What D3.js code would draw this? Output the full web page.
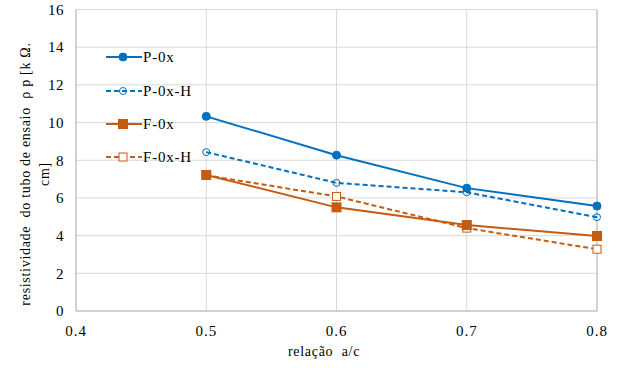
<!DOCTYPE html>
<html><head><meta charset="utf-8">
<script src="https://cdn.jsdelivr.net/npm/d3@7"></script>
<style>body{margin:0;background:#fff}svg{display:block}</style>
</head><body><svg id="c" width="627" height="368"></svg>
<script>
const xValues = [0.5, 0.6, 0.7, 0.8];
const seriesNames = ["P-0x", "P-0x-H", "F-0x", "F-0x-H"];
const p0x  = [10.33, 8.27, 6.52, 5.57];
const p0xH = [8.43, 6.80, 6.30, 4.98];
const f0x  = [7.22, 5.50, 4.56, 3.98];
const f0xH = [7.20, 6.08, 4.40, 3.28];
const xTicks = [0.4, 0.5, 0.6, 0.7, 0.8];
const yTicks = [0, 2, 4, 6, 8, 10, 12, 14, 16];
const xTitle = "relação  a/c";
const yTitle1 = "resistividade  do tubo de ensaio  ρ p [k Ω.";
const yTitle2 = "cm]";

const FONT = '"Liberation Serif"';
const series = [
  {name: seriesNames[0], values: p0x,  color: "#0070C0", dash: null,  marker: "circle", fill: true},
  {name: seriesNames[1], values: p0xH, color: "#0070C0", dash: "5,3", marker: "circle", fill: false},
  {name: seriesNames[2], values: f0x,  color: "#C55A11", dash: null,  marker: "square", fill: true},
  {name: seriesNames[3], values: f0xH, color: "#C55A11", dash: "5,3", marker: "square", fill: false}
];

const svg = d3.select("#c");
const L = 76, R = 597, T = 9.5, B = 311;
const x = d3.scaleLinear().domain([0.4, 0.8]).range([L, R]);
const y = d3.scaleLinear().domain([0, 16]).range([B, T]);

svg.append("g").selectAll("line").data(yTicks.filter(d => d > 0)).join("line")
  .attr("x1", L).attr("x2", R).attr("y1", d => y(d)).attr("y2", d => y(d))
  .attr("stroke", "#d9d9d9").attr("stroke-width", 1);
svg.append("g").selectAll("line").data(xTicks.filter(d => d > 0.4 && d < 0.8)).join("line")
  .attr("x1", d => x(d)).attr("x2", d => x(d)).attr("y1", T).attr("y2", B)
  .attr("stroke", "#d9d9d9").attr("stroke-width", 1);
svg.append("line").attr("x1", L).attr("x2", L).attr("y1", T).attr("y2", B).attr("stroke", "#a6a6a6");
svg.append("line").attr("x1", L).attr("x2", R).attr("y1", B).attr("y2", B).attr("stroke", "#a6a6a6");
svg.append("line").attr("x1", R).attr("x2", R).attr("y1", T).attr("y2", B).attr("stroke", "#a6a6a6");

svg.append("g").selectAll("text").data(yTicks).join("text")
  .attr("x", 64).attr("y", d => y(d)).attr("dy", "0.35em").attr("text-anchor", "end")
  .style("font-family", FONT).style("font-size", "15px").style("letter-spacing", "0.5px").text(d => d);
svg.append("g").selectAll("text").data(xTicks).join("text")
  .attr("x", d => x(d)).attr("y", 336).attr("text-anchor", "middle")
  .style("font-family", FONT).style("font-size", "15px").style("letter-spacing", "1px").text(d => d3.format(".1f")(d));

svg.append("text").attr("x", 324).attr("y", 356).attr("text-anchor", "middle")
  .style("font-family", FONT).style("font-size", "14px").style("letter-spacing", "0.7px")
  .style("white-space", "pre").text(xTitle);
const yt = svg.append("g").attr("transform", "translate(30,174) rotate(-90)");
yt.append("text").attr("x", 0).attr("y", 0).attr("text-anchor", "middle")
  .style("font-family", FONT).style("font-size", "14px").style("letter-spacing", "0.7px")
  .style("white-space", "pre").text(yTitle1);
yt.append("text").attr("x", 0).attr("y", 19).attr("text-anchor", "middle")
  .style("font-family", FONT).style("font-size", "14px").style("letter-spacing", "0.7px").text(yTitle2);

const line = d3.line().x((d, i) => x(xValues[i])).y(d => y(d));

function drawMarker(g, s, cx, cy) {
  if (s.marker === "circle") {
    g.append("circle").attr("cx", cx).attr("cy", cy).attr("r", s.fill ? 4 : 3.5)
      .attr("fill", s.fill ? s.color : "none").attr("stroke", s.color).attr("stroke-width", 1);
  } else {
    const h = s.fill ? 4.5 : 4;
    g.append("rect").attr("x", cx - h).attr("y", cy - h).attr("width", 2 * h).attr("height", 2 * h)
      .attr("fill", s.fill ? s.color : "#fff").attr("stroke", s.color).attr("stroke-width", 1);
  }
}

[3, 2, 1, 0].forEach(k => {
  const s = series[k];
  const g = svg.append("g");
  g.append("path").datum(s.values).attr("d", line).attr("fill", "none")
    .attr("stroke", s.color).attr("stroke-width", 2).attr("stroke-dasharray", s.dash);
  s.values.forEach((v, i) => drawMarker(g, s, x(xValues[i]), y(v)));
});

const legY = [57, 91, 124, 157];
series.forEach((s, k) => {
  const g = svg.append("g");
  g.append("line").attr("x1", 106).attr("x2", 142).attr("y1", legY[k]).attr("y2", legY[k])
    .attr("stroke", s.color).attr("stroke-width", 2).attr("stroke-dasharray", s.dash);
  drawMarker(g, s, 123, legY[k]);
  g.append("text").attr("x", 143).attr("y", legY[k]).attr("dy", "0.35em")
    .style("font-family", FONT).style("font-size", "15px").style("letter-spacing", "0.8px").text(s.name);
});
</script></body></html>
